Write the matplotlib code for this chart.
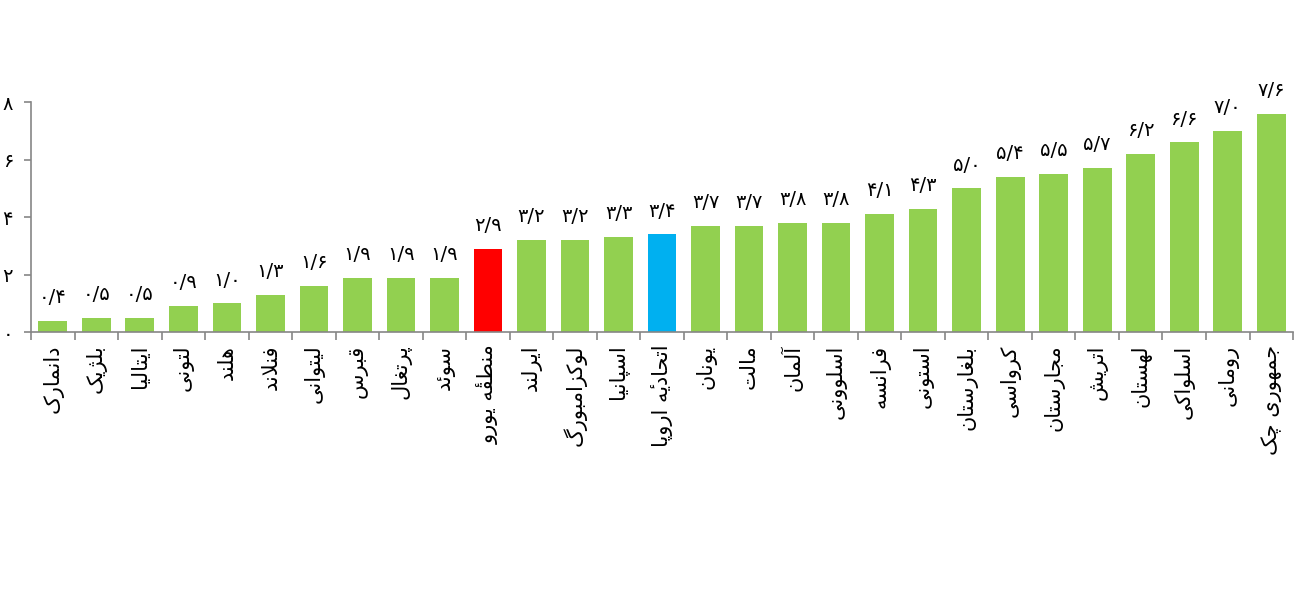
import matplotlib
matplotlib.use("Agg")
import matplotlib.pyplot as plt
import numpy as np

# Data
countries = ["دانمارک", "بلژیک", "ایتالیا", "لتونی", "هلند", "فنلاند", "لیتوانی",
             "قبرس", "پرتغال", "سوئد", "منطقهٔ یورو", "ایرلند", "لوکزامبورگ",
             "اسپانیا", "اتحادیهٔ اروپا", "یونان", "مالت", "آلمان", "اسلوونی",
             "فرانسه", "استونی", "بلغارستان", "کرواسی", "مجارستان", "اتریش",
             "لهستان", "اسلواکی", "رومانی", "جمهوری چک"]
values = [0.4, 0.5, 0.5, 0.9, 1.0, 1.3, 1.6, 1.9, 1.9, 1.9, 2.9, 3.2, 3.2, 3.3,
          3.4, 3.7, 3.7, 3.8, 3.8, 4.1, 4.3, 5.0, 5.4, 5.5, 5.7, 6.2, 6.6, 7.0, 7.6]
highlight = {"منطقهٔ یورو": "#FF0000", "اتحادیهٔ اروپا": "#00B0F0"}
y_ticks = [0, 2, 4, 6, 8]

# Minimal Arabic/Persian shaping: presentation forms (iso, final, init, medial)
FORMS = {
    "ا": ("\uFE8D", "\uFE8E"), "آ": ("\uFE81", "\uFE82"),
    "د": ("\uFEA9", "\uFEAA"), "ذ": ("\uFEAB", "\uFEAC"),
    "ر": ("\uFEAD", "\uFEAE"), "ز": ("\uFEAF", "\uFEB0"),
    "ژ": ("\uFB8A", "\uFB8B"), "و": ("\uFEED", "\uFEEE"),
    "ب": ("\uFE8F", "\uFE90", "\uFE91", "\uFE92"),
    "پ": ("\uFB56", "\uFB57", "\uFB58", "\uFB59"),
    "ت": ("\uFE95", "\uFE96", "\uFE97", "\uFE98"),
    "ج": ("\uFE9D", "\uFE9E", "\uFE9F", "\uFEA0"),
    "چ": ("\uFB7A", "\uFB7B", "\uFB7C", "\uFB7D"),
    "ح": ("\uFEA1", "\uFEA2", "\uFEA3", "\uFEA4"),
    "س": ("\uFEB1", "\uFEB2", "\uFEB3", "\uFEB4"),
    "ش": ("\uFEB5", "\uFEB6", "\uFEB7", "\uFEB8"),
    "ط": ("\uFEC1", "\uFEC2", "\uFEC3", "\uFEC4"),
    "غ": ("\uFECD", "\uFECE", "\uFECF", "\uFED0"),
    "ف": ("\uFED1", "\uFED2", "\uFED3", "\uFED4"),
    "ق": ("\uFED5", "\uFED6", "\uFED7", "\uFED8"),
    "ک": ("\uFB8E", "\uFB8F", "\uFB90", "\uFB91"),
    "گ": ("\uFB92", "\uFB93", "\uFB94", "\uFB95"),
    "ل": ("\uFEDD", "\uFEDE", "\uFEDF", "\uFEE0"),
    "م": ("\uFEE1", "\uFEE2", "\uFEE3", "\uFEE4"),
    "ن": ("\uFEE5", "\uFEE6", "\uFEE7", "\uFEE8"),
    "ه": ("\uFEE9", "\uFEEA", "\uFEEB", "\uFEEC"),
    "ی": ("\uFBFC", "\uFBFD", "\uFBFE", "\uFBFF"),
    "ئ": ("\uFE89", "\uFE8A", "\uFE8B", "\uFE8C"),
}
LAM_ALEF = {"ا": ("\uFEFB", "\uFEFC"), "آ": ("\uFEF5", "\uFEF6")}
MARKS = {"\u0654", "\u064B", "\u064E", "\u064F", "\u0650", "\u0651"}


def neighbour(chars, i, step):
    j = i + step
    while 0 <= j < len(chars) and chars[j] in MARKS:
        j += step
    return chars[j] if 0 <= j < len(chars) else None


def shape(text):
    chars = list(text)
    out = []
    i = 0
    while i < len(chars):
        c = chars[i]
        if c not in FORMS:
            out.append(c)
            i += 1
            continue
        prev = neighbour(chars, i, -1)
        nxt = neighbour(chars, i, 1)
        join_prev = prev in FORMS and len(FORMS[prev]) == 4
        if c == "ل" and nxt in LAM_ALEF:
            out.append(LAM_ALEF[nxt][1 if join_prev else 0])
            i += 2
            continue
        join_next = len(FORMS[c]) == 4 and nxt in FORMS
        f = FORMS[c]
        if join_prev and join_next:
            out.append(f[3])
        elif join_prev:
            out.append(f[1])
        elif join_next:
            out.append(f[2])
        else:
            out.append(f[0])
        i += 1
    # reverse into visual order, keeping marks after their base glyph
    clusters = []
    for ch in out:
        if ch in MARKS and clusters:
            clusters[-1] += ch
        else:
            clusters.append(ch)
    return "".join(reversed(clusters))


FA_DIGITS = str.maketrans("0123456789.", "۰۱۲۳۴۵۶۷۸۹/")


def fa_num(v, fmt="{:.1f}"):
    return fmt.format(v).translate(FA_DIGITS)


plt.rcParams["font.family"] = ["DejaVu Sans"]

fig = plt.figure(figsize=(12.99, 5.91), dpi=100)
ax = fig.add_axes([0.0239, 0.438, 0.9715, 0.389])

x = np.arange(len(countries))
colors = [highlight.get(c, "#92D050") for c in countries]
bars = ax.bar(x, values, width=0.66, color=colors, zorder=2)

for xi, v in zip(x, values):
    ax.annotate(fa_num(v), (xi, v), xytext=(0, 10), textcoords="offset points",
                ha="center", va="bottom", fontsize=14)

ax.set_xlim(-0.5, len(countries) - 0.5)
ax.set_ylim(0, 8)
ax.set_yticks(y_ticks)
ax.set_yticklabels([fa_num(t, "{:d}") for t in y_ticks], fontsize=14)

ax.set_xticks(x)
ax.set_xticklabels([shape(c) for c in countries], rotation=90, fontsize=15)
ax.set_xticks(np.arange(len(countries) + 1) - 0.5, minor=True)
ax.tick_params(axis="x", which="major", length=0, pad=9)
ax.tick_params(axis="x", which="minor", length=6, color="#868686", width=1.2)
ax.tick_params(axis="y", length=5, color="#868686", width=1.2, pad=8)

for side in ["top", "right"]:
    ax.spines[side].set_visible(False)
for side in ["left", "bottom"]:
    ax.spines[side].set_color("#868686")
    ax.spines[side].set_linewidth(1.2)

fig.savefig("out.png", dpi=100)
